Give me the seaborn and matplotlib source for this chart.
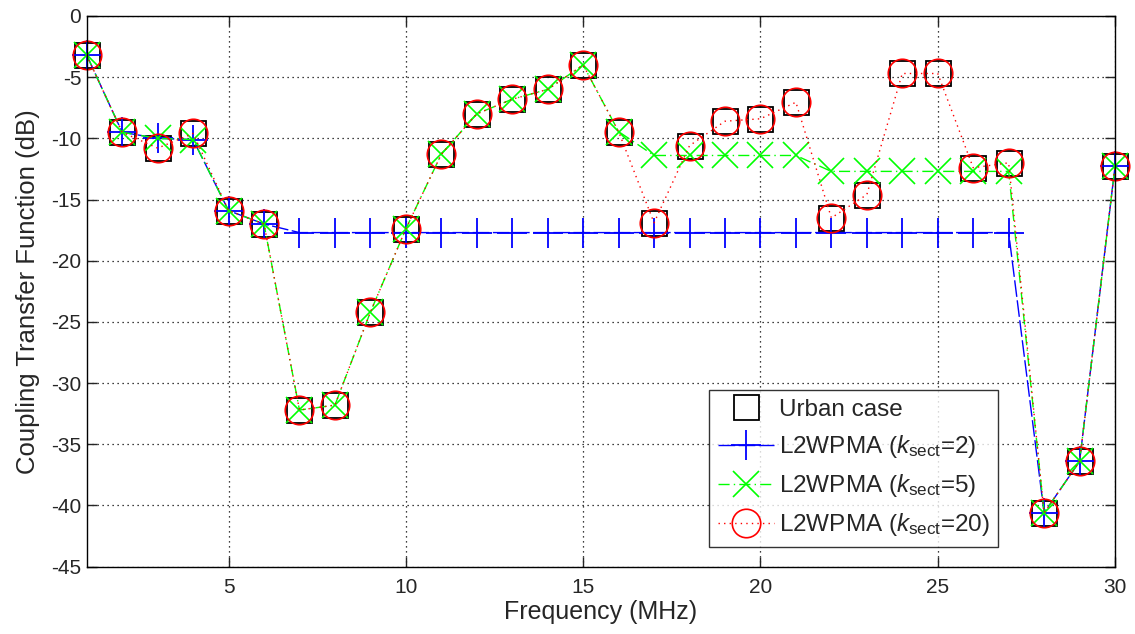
import numpy as np
import pandas as pd
import matplotlib
matplotlib.use("Agg")
import matplotlib.pyplot as plt
import seaborn as sns

# Frequencies (MHz)
freq = list(range(1, 31))

# Coupling transfer function (dB)
urban = [-3.2, -9.5, -10.8, -9.6, -15.9, -17.0, -32.2, -31.8, -24.2, -17.4,
         -11.3, -8.0, -6.8, -6.0, -4.0, -9.45, -16.9, -10.6, -8.6, -8.4,
         -7.05, -16.5, -14.6, -4.7, -4.7, -12.4, -12.0, -40.6, -36.4, -12.3]
k2 = [-3.2, -9.5, -10.0, -10.1, -15.9, -17.0, -17.7, -17.7, -17.7, -17.7,
      -17.7, -17.7, -17.7, -17.7, -17.7, -17.7, -17.7, -17.7, -17.7, -17.7,
      -17.7, -17.7, -17.7, -17.7, -17.7, -17.7, -17.7, -40.6, -36.4, -12.3]
k5 = [-3.2, -9.5, -10.0, -10.1, -15.9, -17.0, -32.2, -31.8, -24.2, -17.4,
      -11.3, -8.0, -6.8, -6.0, -4.0, -9.45, -11.4, -11.4, -11.4, -11.4,
      -11.4, -12.7, -12.7, -12.7, -12.7, -12.7, -12.7, -40.6, -36.4, -12.3]
k20 = urban

labels = ["Urban case",
          r"L2WPMA ($k_{\mathrm{sect}}$=2)",
          r"L2WPMA ($k_{\mathrm{sect}}$=5)",
          r"L2WPMA ($k_{\mathrm{sect}}$=20)"]

df = pd.DataFrame({"freq": freq, "urban": urban, "k2": k2, "k5": k5, "k20": k20})

sns.set_style("white")
plt.rcParams["font.family"] = ["Liberation Sans", "DejaVu Sans"]
plt.rcParams["mathtext.fontset"] = "custom"
plt.rcParams["mathtext.rm"] = "Liberation Sans"
plt.rcParams["mathtext.it"] = "Liberation Sans:italic"
plt.rcParams["axes.unicode_minus"] = False

fig = plt.figure(figsize=(11.35, 6.34), dpi=100)
ax = fig.add_axes([0.0764, 0.1062, 0.906, 0.8686])

sns.lineplot(data=df, x="freq", y="urban", ax=ax, linestyle="none", marker="s",
             markersize=18, markerfacecolor="none", markeredgecolor="black",
             markeredgewidth=1.3, color="black", label=labels[0], clip_on=False)
sns.lineplot(data=df, x="freq", y="k2", ax=ax, linestyle=(0, (12, 2.5)), marker="+",
             markersize=21, markeredgewidth=1.3, markeredgecolor="#0000ff",
             color="#0000ff", linewidth=1, label=labels[1], clip_on=False)
sns.lineplot(data=df, x="freq", y="k5", ax=ax, linestyle=(0, (8, 3, 1, 3)), marker="x",
             markersize=19, markeredgewidth=1.2, markeredgecolor="#00ff00",
             color="#00ff00", linewidth=1, label=labels[2], clip_on=False)
sns.lineplot(data=df, x="freq", y="k20", ax=ax, linestyle=(0, (1, 3)), marker="o",
             markersize=20.5, markerfacecolor="none", markeredgecolor="#ff0000",
             markeredgewidth=1.2, color="#ff0000", linewidth=1, label=labels[3],
             clip_on=False)

ax.set_xlim(1, 30)
ax.set_ylim(-45, 0)
ax.set_xticks([5, 10, 15, 20, 25, 30])
ax.set_yticks(np.arange(-45, 1, 5))
ax.grid(True, color="black", linestyle=(0, (1, 3)), linewidth=0.9)
ax.tick_params(direction="in", length=7, labelsize=15, top=True, right=True,
               bottom=True, left=True, width=1)
ax.tick_params(axis="x", pad=8)
ax.tick_params(axis="y", pad=4)
for s in ax.spines.values():
    s.set_color("black")
    s.set_linewidth(1)
ax.set_xlabel("Frequency (MHz)", fontsize=18, labelpad=2)
ax.set_ylabel("Coupling Transfer Function (dB)", fontsize=18.5, labelpad=8)

leg = ax.legend(loc="lower right", bbox_to_anchor=(0.8862, 0.0358), fontsize=17.5,
                frameon=True, fancybox=False, edgecolor="black",
                handlelength=2.3, handletextpad=0.2, borderpad=0.35,
                labelspacing=0.5, borderaxespad=0)
leg.get_frame().set_linewidth(1)
leg.set_zorder(10)

fig.savefig("out.png", dpi=100)
